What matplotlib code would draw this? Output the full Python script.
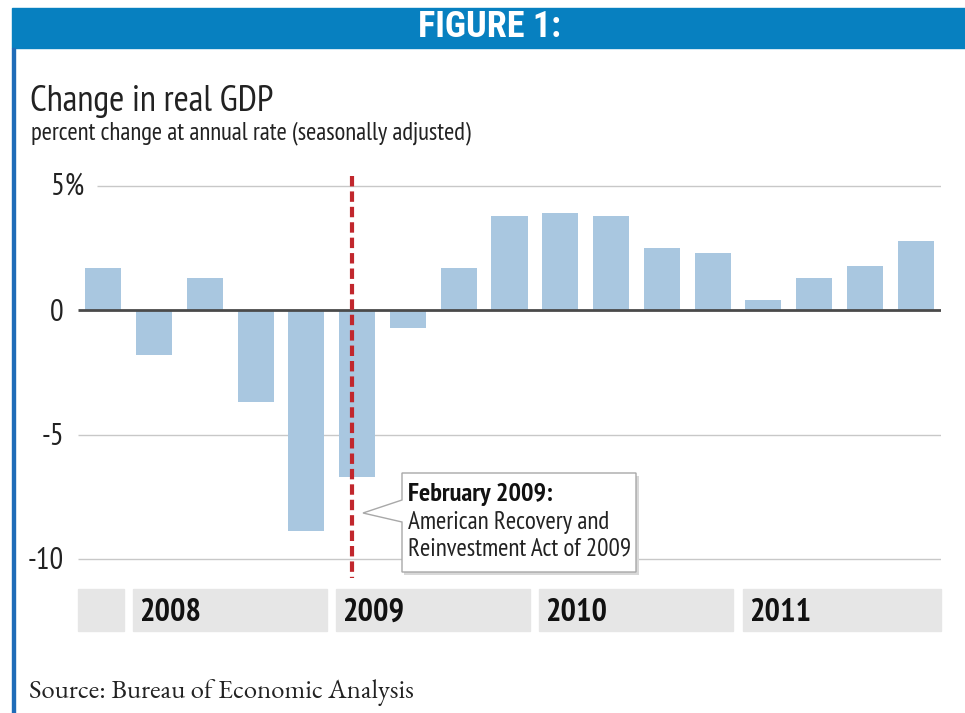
import matplotlib
matplotlib.use("Agg")
import matplotlib.pyplot as plt
from matplotlib.patches import Rectangle, Polygon
from matplotlib.transforms import blended_transform_factory

# quarterly real GDP change, 2007 Q4 .. 2011 Q4
quarters = ["2007Q4",
            "2008Q1", "2008Q2", "2008Q3", "2008Q4",
            "2009Q1", "2009Q2", "2009Q3", "2009Q4",
            "2010Q1", "2010Q2", "2010Q3", "2010Q4",
            "2011Q1", "2011Q2", "2011Q3", "2011Q4"]
gdp_change = [1.7, -1.8, 1.3, -3.7, -8.9, -6.7, -0.7, 1.7, 3.8,
              3.9, 3.8, 2.5, 2.3, 0.4, 1.3, 1.8, 2.8]
years = ["", "2008", "2009", "2010", "2011"]
year_first_q = [0, 1, 5, 9, 13]
year_last_q = [0, 4, 8, 12, 16]
y_ticks = [5, 0, -5, -10]
y_tick_labels = ["5%", "0", "-5", "-10"]
arra_pos = 4.9  # Feb 2009, between 2008Q4 and 2009Q1 centres

NARROW = ["PT Sans Narrow", "DejaVu Sans"]
HEAD = ["Roboto Condensed", "DejaVu Sans"]
SERIF = ["EB Garamond", "Liberation Serif", "DejaVu Serif"]
W, H = 965, 713

fig = plt.figure(figsize=(W / 100, H / 100), dpi=100)


def px(x, y):
    return (x / W, 1 - y / H)


# header band and left border
fig.patches.append(Rectangle(px(12, 48), (W - 12) / W, 40 / H,
                             transform=fig.transFigure, color="#0780C0", zorder=0))
fig.patches.append(Rectangle(px(12, 713), 2.5 / W, 665 / H,
                             transform=fig.transFigure, color="#1F6CB8", zorder=0))
fig.text(490 / W, 1 - 27 / H, "FIGURE 1:", color="white", fontsize=26,
         fontweight="bold", family=HEAD, ha="center", va="center")

fig.text(30 / W, 1 - 101 / H, "Change in real GDP", fontsize=26.3, family=NARROW,
         color="#222222", ha="left", va="center")
fig.text(31 / W, 1 - 133 / H, "percent change at annual rate (seasonally adjusted)",
         fontsize=17.8, family=NARROW, color="#222222", ha="left", va="center")
fig.text(29 / W, 1 - 692 / H, "Source: Bureau of Economic Analysis", fontsize=19.3,
         family=SERIF, color="#222222", ha="left", va="center")

# axes: pixel box 78..941 x 170..640
ax = fig.add_axes([78 / W, 1 - 640 / H, (941 - 78) / W, (640 - 170) / H])
ax.set_xlim(-0.5, 16.5)
ax.set_ylim(-13.27, 5.65)
ax.axis("off")

x = list(range(len(gdp_change)))
ax.bar(x, gdp_change, width=0.71, color="#A9C7E0", zorder=2)

ax.hlines(5, -0.13, 16.5, color="#C8C8C8", lw=1, zorder=1)
ax.hlines([-5, -10], -0.5, 16.5, color="#C8C8C8", lw=1, zorder=1)
ax.hlines(0, -0.5, 16.5, color="#4A4A4A", lw=2, zorder=3)

# y labels: numbers right-aligned, "%" hangs past them
lab_tr = blended_transform_factory(fig.transFigure, ax.transData)
for v, lab in zip(y_ticks, y_tick_labels):
    if lab.endswith("%"):
        ax.text(51 / W, v, lab, fontsize=22, family=NARROW, color="#222222",
                ha="left", va="center", transform=lab_tr)
    else:
        ax.text(64 / W, v - 0.1, lab, fontsize=22, family=NARROW, color="#222222",
                ha="right", va="center", transform=lab_tr)

# year bands
for lab, q0, q1 in zip(years, year_first_q, year_last_q):
    left = -0.5 if q0 == 0 else q0 - 0.41
    right = 16.5 if q1 == 16 else q1 + 0.41
    ax.add_patch(Rectangle((left, -12.9), right - left, 1.7,
                           color="#E6E6E6", zorder=1, clip_on=False))
    if lab:
        ax.text(q0 - 0.29, -12.17, lab, fontsize=23.4, fontweight="bold",
                family=NARROW, color="#111111", ha="left", va="center")

ax.plot([arra_pos, arra_pos], [5.4, -10.77], color="#C1272D", lw=3,
        dashes=(2.5, 1.2), zorder=4, clip_on=False)

# callout box
shadow = [(404, 476), (639, 476), (639, 575), (404, 575)]
fig.patches.append(Polygon([px(a, b) for a, b in shadow], closed=True,
                           transform=fig.transFigure, facecolor="#D8D8D8",
                           edgecolor="none", zorder=5))
box = [(402, 473), (636, 473), (636, 572), (402, 572),
       (402, 522), (363, 513), (402, 500)]
fig.patches.append(Polygon([px(a, b) for a, b in box], closed=True,
                           transform=fig.transFigure, facecolor="white",
                           edgecolor="#A8A8A8", lw=1, zorder=6))
fig.text(408 / W, 1 - 495 / H, "February 2009:", fontsize=19, fontweight="bold",
         family=NARROW, color="#111111", ha="left", va="center", zorder=7)
fig.text(408 / W, 1 - 522 / H, "American Recovery and", fontsize=18,
         family=NARROW, color="#222222", ha="left", va="center", zorder=7)
fig.text(408 / W, 1 - 549 / H, "Reinvestment Act of 2009", fontsize=18,
         family=NARROW, color="#222222", ha="left", va="center", zorder=7)

fig.savefig("out.png", dpi=100)
